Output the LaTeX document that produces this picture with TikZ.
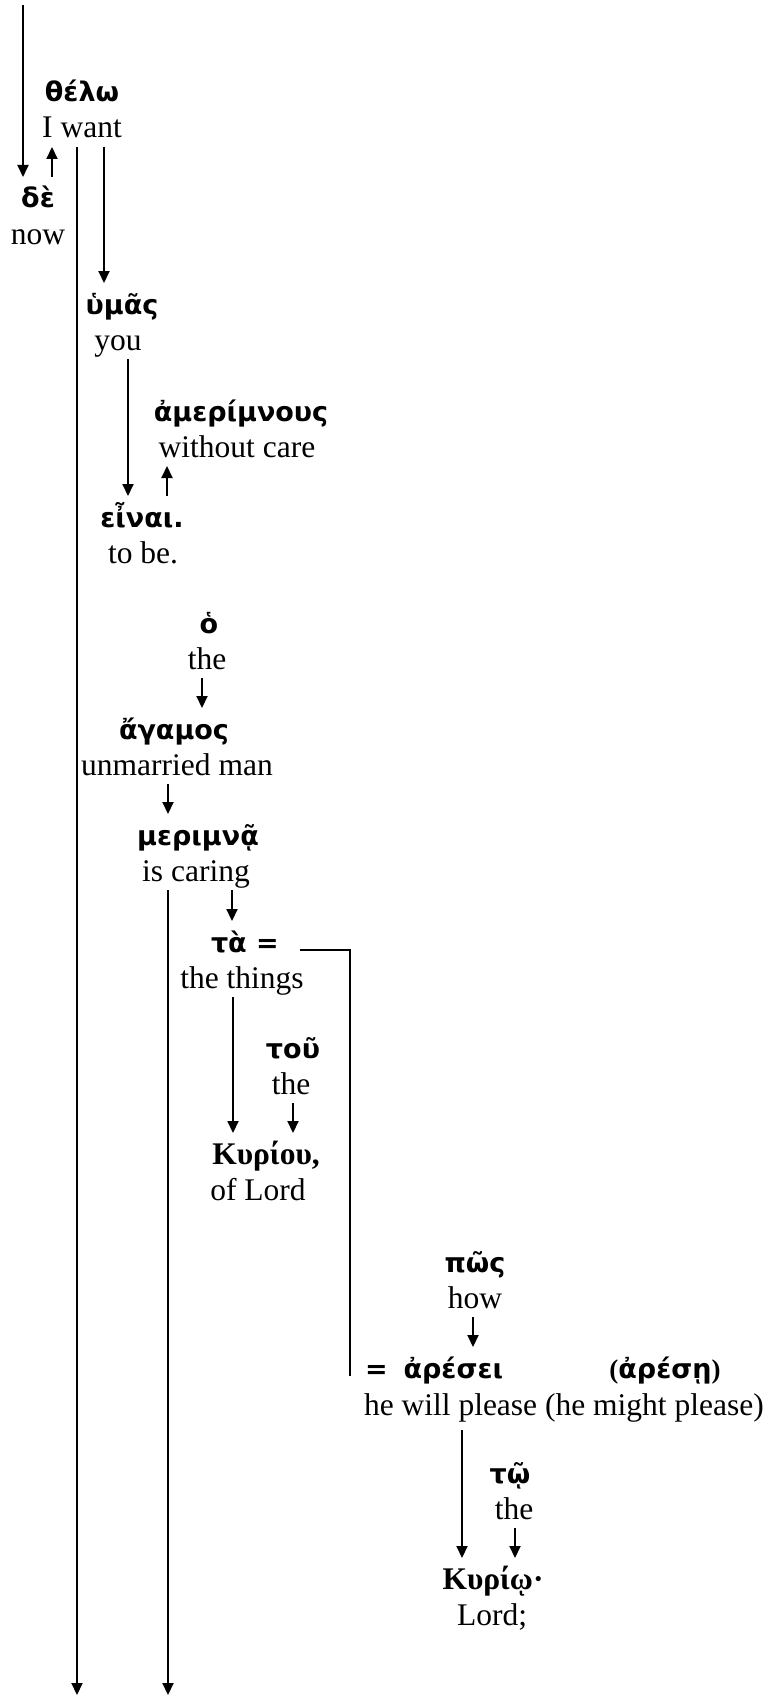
\documentclass[tikz,border=0pt]{standalone}
\usepackage{fontspec}
\setmainfont{Liberation Serif}
\newfontfamily\grk{DejaVu Sans}
\usetikzlibrary{arrows.meta}
\tikzset{
	gr/.style={font=\grk\bfseries\fontsize{27}{32}\selectfont,anchor=base,inner xsep=0pt,inner ysep=3pt,text height=27pt,text depth=5pt},
	grs/.style={gr,font=\bfseries\fontsize{31.5}{36}\selectfont},
	en/.style={font=\fontsize{31.5}{36}\selectfont,anchor=base,inner xsep=0pt,inner ysep=3pt,text height=22pt,text depth=5pt},
}
\begin{document}
\begin{tikzpicture}[x=1pt,y=-1pt,line width=2pt,>={Triangle[width=11pt,length=12pt]}]
	\useasboundingbox (0,0) rectangle (771,1696);
	\node[gr] (thelo) at (82,102) {θέλω};
	\node[en] (iwant) at (82,138) {I want};
	\node[gr] (de) at (38,208) {δὲ};
	\node[en] (now) at (38,244) {now};
	\node[gr] (hymas) at (122,314) {ὑμᾶς};
	\node[en] (you) at (118,350) {you};
	\node[gr] (amerimnous) at (241,421) {ἀμερίμνους};
	\node[en] (withoutcare) at (237,457) {without care};
	\node[gr] (einai) at (142,527) {εἶναι.};
	\node[en] (tobe) at (143,563) {to be.};
	\node[gr] (ho) at (209,633) {ὁ};
	\node[en] (the1) at (207,669) {the};
	\node[gr] (agamos) at (174,739) {ἄγαμος};
	\node[en] (unmarried) at (177,775) {unmarried man};
	\node[gr] (merimna) at (198,845) {μεριμνᾷ};
	\node[en] (iscaring) at (196,881) {is caring};
	\node[gr,anchor=base west] (ta) at (210,952) {τὰ =};
	\node[en] (things) at (242,988) {the things};
	\node[gr] (tou) at (293,1058) {τοῦ};
	\node[en] (the2) at (291,1094) {the};
	\node[grs] (kyriou) at (266,1164) {Κυρίου,};
	\node[en] (oflord) at (258,1200) {of Lord};
	\node[gr] (pos) at (475,1272) {πῶς};
	\node[en] (how) at (475,1308) {how};
	\node[gr,anchor=base west] (aresei) at (364,1378) {=\hspace{16pt}ἀρέσει};
	\node[gr] (aresei2) at (665,1378) {{\rmfamily(}ἀρέσῃ{\rmfamily)}};
	\node[en,anchor=base west] (willplease) at (363,1415) {he will please (he might please)};
	\node[gr] (to) at (510,1483) {τῷ};
	\node[en] (the3) at (514,1519) {the};
	\node[grs] (kyrio) at (493,1589) {Κυρίῳ·};
	\node[en] (lord) at (492,1625) {Lord;};
	% line ends
	\coordinate (top) at (23,5);
	\coordinate (end1) at (77,1695);
	\coordinate (end2) at (168,1695);
	\coordinate (hook) at (350,0);
	\draw[->] (top) -- (top |- de.north);
	\draw[->] (de.north -| 52,0) -- (iwant.south -| 52,0);
	\draw[->] (iwant.south -| end1) -- (end1);
	\draw[->] (iwant.south -| 104,0) -- (hymas.north -| 104,0);
	\draw[->] (you.south -| 128,0) -- (einai.north -| 128,0);
	\draw[->] (einai.north -| 167,0) -- (withoutcare.south -| 167,0);
	\draw[->] (the1.south -| 202,0) -- (agamos.north -| 202,0);
	\draw[->] (unmarried.south -| end2) -- (merimna.north -| end2);
	\draw[->] (iscaring.south -| end2) -- (end2);
	\draw[->] (iscaring.south -| 232,0) -- (ta.north -| 232,0);
	\draw[->] (things.south -| 233,0) -- (kyriou.north -| 233,0);
	\draw[->] (the2.south -| 293,0) -- (kyriou.north -| 293,0);
	\draw (ta.mid east -| 300,0) -| (hook |- aresei.mid);
	\draw[->] (how.south -| 473,0) -- (aresei.north -| 473,0);
	\draw[->] ([yshift=-6pt]willplease.south -| 462,0) -- (kyrio.north -| 462,0);
	\draw[->] (the3.south -| 515,0) -- (kyrio.north -| 515,0);
\end{tikzpicture}
\end{document}
